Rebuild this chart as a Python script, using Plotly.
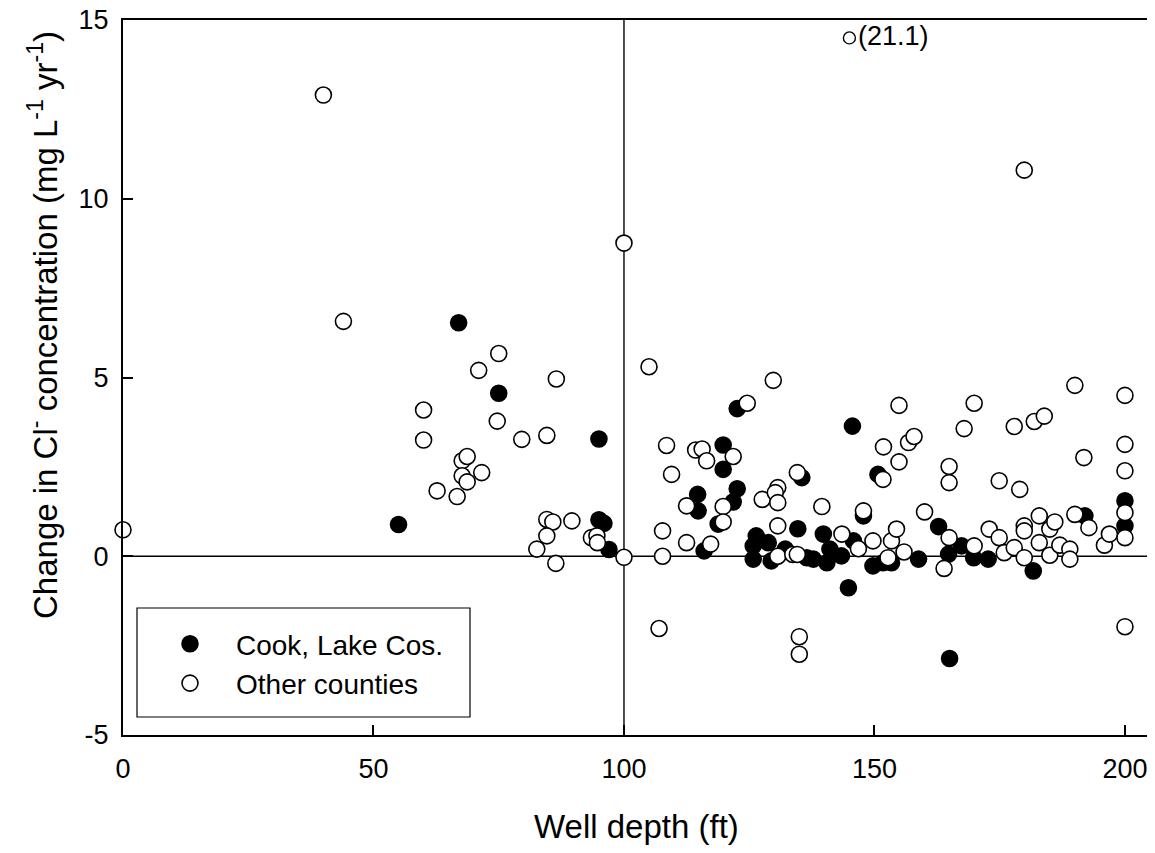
import plotly.graph_objects as go

# ---- data ----
cook_depth = [55, 67, 75, 95, 95, 96, 97, 114.7, 114.8, 116, 119.8, 119.8, 118.8,
              122.6, 122.6, 121.8, 126.4, 125.8, 128.8, 125.8, 129.4, 132.2, 134.7,
              135.5, 136.5, 137.8, 139.8, 141.1, 140.5, 143.4, 145.8, 144.8, 145.6,
              147.8, 149.7, 150.7, 151.7, 153.4, 158.8, 162.8, 164.8, 165, 167.4,
              169.8, 172.7, 181.7, 192, 200, 200]
cook_change = [0.89, 6.53, 4.56, 3.28, 1.02, 0.92, 0.19, 1.73, 1.27, 0.15, 3.11, 2.43, 0.9,
               4.13, 1.89, 1.52, 0.57, 0.29, 0.38, -0.08, -0.13, 0.2, 0.77,
               2.2, -0.04, -0.08, 0.62, 0.2, -0.18, 0.01, 0.43, -0.88, 3.64,
               1.13, -0.27, 2.29, -0.18, -0.18, -0.08, 0.83, 0.06, -2.86, 0.29,
               -0.04, -0.08, -0.41, 1.13, 1.55, 0.85]

other_depth = [0, 40, 44, 60, 60, 62.7, 66.7, 67.7, 67.7, 68.7, 68.7, 71.6, 71, 75, 74.7,
               79.6, 84.6, 86.5, 82.6, 84.6, 85.8, 84.6, 86.4, 89.6, 93.5, 94.6, 94.7,
               100, 100, 105, 107, 107.7, 107.7, 108.5, 109.5, 112.5, 112.5, 114.3,
               115.6, 116.5, 117.3, 119.8, 119.8, 121.8, 124.6, 127.6, 129.8, 130.7,
               130.2, 130.7, 130.7, 130.7, 133.7, 134.6, 134.6, 135, 135, 139.5, 143.5,
               146.8, 147.8, 149.7, 151.7, 151.8, 152.7, 153.4, 154.4, 154.9, 154.9,
               155.9, 156.8, 157.9, 160, 163.9, 164.9, 164.9, 164.9, 167.9, 169.9,
               169.9, 172.9, 174.9, 174.9, 175.9, 177.9, 177.9, 179, 179.9, 179.9,
               179.9, 179.9, 181.9, 182.9, 182.9, 183.9, 185, 185, 186, 187, 189, 189,
               190, 190, 191.8, 192.8, 195.9, 196.9, 200, 200, 200, 200, 200, 200]
other_change = [0.74, 12.9, 6.57, 4.09, 3.25, 1.83, 1.67, 2.67, 2.25, 2.79, 2.08, 2.34, 5.2, 5.67, 3.78,
                3.27, 3.38, 4.96, 0.2, 1.03, 0.96, 0.57, -0.2, 0.99, 0.52, 0.57, 0.38,
                -0.03, 8.76, 5.3, -2.02, 0.71, 0.0, 3.1, 2.29, 1.41, 0.38, 2.97,
                3.0, 2.67, 0.34, 1.39, 0.96, 2.79, 4.28, 1.59, 4.92, 1.92,
                1.78, 1.5, 0.85, 0.0, 0.05, 0.05, 2.34, -2.25, -2.74, 1.39, 0.62,
                0.21, 1.27, 0.43, 2.15, 3.06, -0.04, 0.43, 0.76, 4.22, 2.64,
                0.12, 3.18, 3.35, 1.24, -0.34, 2.51, 2.06, 0.52, 3.57, 4.28,
                0.29, 0.76, 2.11, 0.52, 0.1, 3.63, 0.24, 1.87, 10.8, 0.85,
                0.71, -0.04, 3.77, 1.13, 0.38, 3.92, 0.76, 0.03, 0.96, 0.31, 0.2, -0.08,
                1.17, 4.78, 2.76, 0.8, 0.31, 0.62, 4.5, 3.13, 2.39, 1.22, 0.52, -1.97]

# off-scale value (true value 21.1) drawn at top of the axis
offscale_depth = [145.0]
offscale_plotted = [14.5]
offscale_label = ["(21.1)"]

x_ticks = [0, 50, 100, 150, 200]
x_tick_labels = ["0", "50", "100", "150", "200"]
y_ticks = [-5, 0, 5, 10, 15]
y_tick_labels = ["-5", "0", "5", "10", "15"]
ref_depth = 100
ref_change = 0

FONT = "Liberation Sans, Arial, sans-serif"

# The page body adds an 8 px offset; the figure is sized so the plot area
# lands at x 123..1150, y 20..735 of the window.
OFF = 8
PL, PT, PW, PH = 123, 20, 1027, 715

fig = go.Figure()
fig.add_trace(go.Scatter(
    x=cook_depth, y=cook_change, mode="markers", name="Cook, Lake Cos.",
    cliponaxis=False,
    marker=dict(symbol="circle", size=16, color="black",
                line=dict(color="black", width=1.6))))
fig.add_trace(go.Scatter(
    x=other_depth, y=other_change, mode="markers", name="Other counties",
    cliponaxis=False,
    marker=dict(symbol="circle", size=16, color="white",
                line=dict(color="black", width=1.6))))
fig.add_trace(go.Scatter(
    x=offscale_depth, y=offscale_plotted, mode="markers+text", text=offscale_label,
    textposition="middle right", showlegend=False, cliponaxis=False,
    textfont=dict(family=FONT, size=27, color="black"),
    marker=dict(symbol="circle", size=12, color="white",
                line=dict(color="black", width=1.4))))

axis_common = dict(showgrid=False, zeroline=False, showline=True, linecolor="black",
                   linewidth=2, mirror=True, ticks="inside", ticklen=10,
                   tickwidth=1.5, tickcolor="black", automargin=False,
                   ticklabeloverflow="allow",
                   tickfont=dict(family=FONT, size=27, color="black"))

fig.update_xaxes(range=[0, 205], tickvals=x_ticks, ticktext=x_tick_labels,
                 ticklabelstandoff=9, **axis_common)
fig.update_yaxes(range=[-5, 15], tickvals=y_ticks, ticktext=y_tick_labels,
                 ticklabelstandoff=7, **axis_common)

fig.add_shape(type="line", xref="x", yref="y", x0=ref_depth, x1=ref_depth, y0=-5, y1=15,
              line=dict(color="black", width=1.4), layer="below")
fig.add_shape(type="line", xref="x", yref="y", x0=0, x1=205, y0=ref_change, y1=ref_change,
              line=dict(color="black", width=1.4), layer="below")


def px_x(p):
    return (p - PL) / PW


def px_y(p):
    return (PT + PH - p) / PH


# legend frame
fig.add_shape(type="rect", xref="paper", yref="paper",
              x0=px_x(137), x1=px_x(470), y0=px_y(717), y1=px_y(608),
              line=dict(color="black", width=1.2), fillcolor="rgba(0,0,0,0)", layer="above")

fig.add_annotation(text="Well depth (ft)", xref="paper", yref="paper", x=0.5,
                   y=px_y(826), yanchor="middle", showarrow=False,
                   font=dict(family=FONT, size=33, color="black"))
fig.add_annotation(text="Change in Cl<sup>-</sup> concentration (mg L<sup>-1</sup> yr<sup>-1</sup>)",
                   xref="paper", yref="paper", x=px_x(43), y=px_y(325),
                   textangle=-90, xanchor="center", yanchor="middle", showarrow=False,
                   font=dict(family=FONT, size=33, color="black"))

fig.update_layout(
    width=1155 - OFF, height=853 - OFF,
    margin=dict(l=PL - OFF, r=1155 - PL - PW, t=PT - OFF, b=853 - PT - PH, autoexpand=False),
    paper_bgcolor="white", plot_bgcolor="white",
    showlegend=True,
    legend=dict(x=px_x(144), y=px_y(619), xanchor="left", yanchor="top",
                bgcolor="rgba(0,0,0,0)", borderwidth=0,
                font=dict(family=FONT, size=28, color="black"),
                tracegroupgap=0, itemwidth=82),
)

fig.write_html("out.html")
